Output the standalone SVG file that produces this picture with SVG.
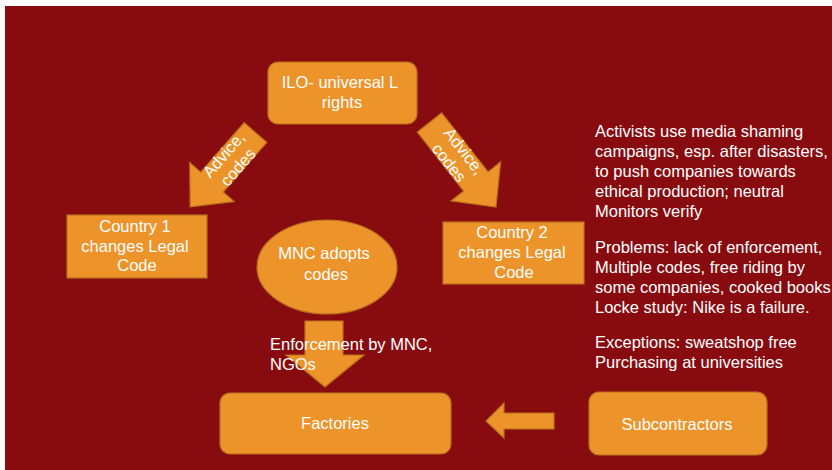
<svg xmlns="http://www.w3.org/2000/svg" width="832" height="470" viewBox="0 0 832 470">
  <style>
    .shape { fill: #EC9329; stroke: #B8711F; stroke-width: 1.2; }
    .lbl { font-family: "Liberation Sans", Arial, sans-serif; font-size: 16.5px; fill: #FFFFFF; }
    .mid { text-anchor: middle; }
  </style>
  <rect x="0" y="0" width="832" height="470" fill="#FFFFFF"/>
  <rect x="5" y="6" width="827" height="464" fill="#880C0F"/>

  <!-- connectors: block arrows -->
  <g id="connectors">
    <g id="arrow-ilo-country1">
      <path class="shape" transform="translate(255.5,132.5) rotate(131.3)" d="M0,-15 L66,-15 L66,-29.5 L99,0 L66,29.5 L66,15 L0,15 Z"/>
      <g transform="translate(231,161) rotate(-48.7)">
        <text class="lbl mid" x="0" y="-4">Advice,</text>
        <text class="lbl mid" x="0" y="15">codes</text>
      </g>
    </g>
    <g id="arrow-ilo-country2">
      <path class="shape" transform="translate(429.5,122.5) rotate(51.8)" d="M0,-15.5 L75,-15.5 L75,-31.5 L107.5,0 L75,31.5 L75,15.5 L0,15.5 Z"/>
      <g transform="translate(456.5,157) rotate(51.8)">
        <text class="lbl mid" x="0" y="-4">Advice,</text>
        <text class="lbl mid" x="0" y="15">codes</text>
      </g>
    </g>
    <g id="arrow-mnc-factories">
      <path class="shape" d="M305,321 L343,321 L343,355 L364,355 L325,387 L286,355 L305,355 Z"/>
    </g>
    <g id="arrow-sub-factories">
      <path class="shape" d="M554,413 L554,429 L504,429 L504,438 L486,421 L504,403 L504,413 Z"/>
    </g>
  </g>

  <g id="node-ilo">
    <rect class="shape" x="268" y="62" width="149" height="62" rx="10"/>
    <text class="lbl mid" x="340" y="88" font-size="15.8">ILO- universal L</text>
    <text class="lbl mid" x="342" y="108">rights</text>
  </g>

  <g id="node-country1">
    <rect class="shape" x="67" y="215" width="140" height="63"/>
    <text class="lbl mid" x="135" y="232">Country 1</text>
    <text class="lbl mid" x="135" y="252">changes Legal</text>
    <text class="lbl mid" x="137" y="271">Code</text>
  </g>

  <g id="node-country2">
    <rect class="shape" x="443" y="222" width="141" height="62"/>
    <text class="lbl mid" x="512" y="238">Country 2</text>
    <text class="lbl mid" x="512" y="258">changes Legal</text>
    <text class="lbl mid" x="514" y="278">Code</text>
  </g>

  <g id="node-mnc">
    <ellipse class="shape" cx="327" cy="267" rx="70" ry="47"/>
    <text class="lbl mid" x="324" y="259">MNC adopts</text>
    <text class="lbl mid" x="326" y="280">codes</text>
  </g>

  <g id="node-enforcement-label">
    <text class="lbl" x="270" y="350">Enforcement by MNC,</text>
    <text class="lbl" x="270" y="370">NGOs</text>
  </g>

  <g id="node-factories">
    <rect class="shape" x="220" y="393" width="231" height="61" rx="10"/>
    <text class="lbl mid" x="335" y="429">Factories</text>
  </g>

  <g id="node-subcontractors">
    <rect class="shape" x="589" y="392" width="178" height="63" rx="10"/>
    <text class="lbl mid" x="677" y="430">Subcontractors</text>
  </g>

  <g id="notes">
    <text class="lbl" x="595" y="137">Activists use media shaming</text>
    <text class="lbl" x="595" y="157">campaigns, esp. after disasters,</text>
    <text class="lbl" x="595" y="177">to push companies towards</text>
    <text class="lbl" x="595" y="197">ethical production; neutral</text>
    <text class="lbl" x="595" y="217">Monitors verify</text>
    <text class="lbl" x="595" y="253">Problems: lack of enforcement,</text>
    <text class="lbl" x="595" y="273">Multiple codes, free riding by</text>
    <text class="lbl" x="595" y="293">some companies, cooked books</text>
    <text class="lbl" x="595" y="313">Locke study: Nike is a failure.</text>
    <text class="lbl" x="595" y="348">Exceptions: sweatshop free</text>
    <text class="lbl" x="595" y="368">Purchasing at universities</text>
  </g>
</svg>
